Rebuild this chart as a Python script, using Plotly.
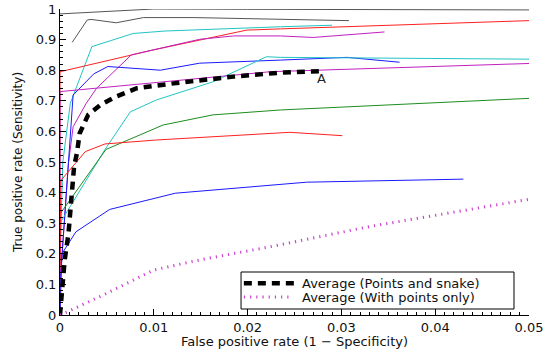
import plotly.graph_objects as go

# ---- data ----
gray1_x = [0, 0.01, 0.02, 0.05]
gray1_y = [0.984, 1.0, 0.999, 0.997]

gray2_x = [0.0013, 0.0029, 0.0033, 0.006, 0.0089, 0.0142, 0.0308]
gray2_y = [0.891, 0.964, 0.966, 0.955, 0.972, 0.972, 0.962]

cyan1_x = [0, 0.0003, 0.0011, 0.0034, 0.0078, 0.0112, 0.0235, 0.029]
cyan1_y = [0.15, 0.50, 0.692, 0.877, 0.92, 0.928, 0.942, 0.947]

red1_x = [0, 0, 0.0099, 0.0199, 0.0235, 0.05]
red1_y = [0.0, 0.795, 0.866, 0.931, 0.935, 0.962]

mag1_x = [0, 0.0009, 0.0014, 0.0028, 0.0039, 0.0076, 0.0149, 0.0185, 0.0235, 0.027, 0.0346]
mag1_y = [0.10, 0.496, 0.615, 0.692, 0.741, 0.85, 0.901, 0.912, 0.912, 0.907, 0.925]

blue1_x = [0, 0.0014, 0.0036, 0.0051, 0.0107, 0.0149, 0.0235, 0.0306, 0.0362]
blue1_y = [0.10, 0.719, 0.788, 0.812, 0.80, 0.823, 0.833, 0.842, 0.826]

cyan2_x = [0, 0.0048, 0.0075, 0.0103, 0.0163, 0.022, 0.0235, 0.05]
cyan2_y = [0.30, 0.541, 0.664, 0.703, 0.762, 0.844, 0.842, 0.836]

mag2_x = [0, 0, 0.0224, 0.05]
mag2_y = [0.0, 0.73, 0.795, 0.822]

green_x = [0, 0.0049, 0.011, 0.0163, 0.0235, 0.05]
green_y = [0.33, 0.541, 0.621, 0.654, 0.670, 0.708]

red2_x = [0, 0.0001, 0.0027, 0.0048, 0.0103, 0.0235, 0.0245, 0.0301]
red2_y = [0.15, 0.44, 0.534, 0.559, 0.572, 0.597, 0.597, 0.586]

blue2_x = [0, 0.0002, 0.0017, 0.0053, 0.0123, 0.0235, 0.0263, 0.043]
blue2_y = [0.0, 0.20, 0.272, 0.345, 0.398, 0.425, 0.434, 0.444]

avg_snake_x = [0, 0.0002, 0.0005, 0.0009, 0.0011, 0.0013, 0.0015, 0.0018, 0.0021,
               0.0030, 0.0043, 0.0059, 0.0082, 0.0121, 0.0185, 0.0235, 0.0277]
avg_snake_y = [0, 0.093, 0.18, 0.265, 0.349, 0.398, 0.485, 0.528, 0.594,
               0.654, 0.686, 0.713, 0.741, 0.757, 0.779, 0.792, 0.797]

avg_points_x = [0, 0.0004, 0.005, 0.0100, 0.0149, 0.0224, 0.033, 0.05]
avg_points_y = [0, 0.005, 0.071, 0.147, 0.18, 0.223, 0.289, 0.378]

legend_names = ["Average (Points and snake)", "Average (With points only)"]
annotation_label = "A"
annotation_x = 0.0279
annotation_y = 0.773

x_title = "False positive rate (1 \u2212 Specificity)"
y_title = "True positive rate (Sensitivity)"

FONT = "DejaVu Sans"
SNAKE_STYLE = dict(color="black", width=4.5, dash="8px,6px")
POINTS_STYLE = dict(color="#d040d0", width=3, dash="1.2px,5px")

fig = go.Figure()

thin = [
    (gray1_x, gray1_y, "#555555"),
    (gray2_x, gray2_y, "#555555"),
    (cyan1_x, cyan1_y, "#22c4c4"),
    (red1_x, red1_y, "#ff2020"),
    (mag1_x, mag1_y, "#c020c0"),
    (blue1_x, blue1_y, "#1a1aff"),
    (cyan2_x, cyan2_y, "#22c4c4"),
    (mag2_x, mag2_y, "#c020c0"),
    (green_x, green_y, "#1e8c1e"),
    (red2_x, red2_y, "#ff2020"),
    (blue2_x, blue2_y, "#1a1aff"),
]
for xs, ys, c in thin:
    fig.add_trace(go.Scatter(x=xs, y=ys, mode="lines", line=dict(color=c, width=1),
                             showlegend=False, hoverinfo="skip"))

fig.add_trace(go.Scatter(x=avg_snake_x, y=avg_snake_y, mode="lines", name=legend_names[0],
                         line=SNAKE_STYLE, showlegend=False))
fig.add_trace(go.Scatter(x=avg_points_x, y=avg_points_y, mode="lines", name=legend_names[1],
                         line=POINTS_STYLE, showlegend=False))

fig.add_annotation(x=annotation_x, y=annotation_y, text=annotation_label, showarrow=False,
                   font=dict(family=FONT, size=13, color="#222"))

# ---- compact legend box (layout decoration, in paper coordinates) ----
fig.add_shape(type="rect", xref="paper", yref="paper", x0=0.386, x1=0.968, y0=0.0196, y1=0.1405,
              line=dict(color="black", width=1), fillcolor="white", layer="above")
legend_rows = [(0.1036, 0.505, SNAKE_STYLE), (0.0588, 0.495, POINTS_STYLE)]
for (ly, lx1, st), name in zip(legend_rows, legend_names):
    fig.add_shape(type="line", xref="paper", yref="paper", x0=0.392, x1=lx1, y0=ly, y1=ly,
                  line=st, layer="above")
    fig.add_annotation(xref="paper", yref="paper", x=0.5117, y=ly, text=name, showarrow=False,
                       xanchor="left", yanchor="middle",
                       font=dict(family=FONT, size=13, color="#111"))

axis_common = dict(showline=True, linecolor="black", linewidth=1, mirror=False,
                   ticks="inside", ticklen=6, tickcolor="black", showgrid=False, zeroline=False,
                   automargin=False,
                   tickfont=dict(family=FONT, size=13, color="#111"))

fig.update_xaxes(range=[0, 0.05], dtick=0.01, tick0=0,
                 minor=dict(ticks="inside", ticklen=3, dtick=0.001, tickcolor="black", showgrid=False),
                 title=dict(text=x_title, font=dict(family=FONT, size=13, color="#111"), standoff=0),
                 **axis_common)
fig.update_yaxes(range=[0, 1], dtick=0.1, tick0=0,
                 minor=dict(ticks="inside", ticklen=3, dtick=0.02, tickcolor="black", showgrid=False),
                 title=dict(text=y_title, font=dict(family=FONT, size=12, color="#111"), standoff=10),
                 **axis_common)

fig.update_layout(
    width=545, height=349,
    margin=dict(l=60, r=16, t=9, b=34),
    paper_bgcolor="white", plot_bgcolor="white",
    showlegend=False,
)

fig.write_html("out.html", config={"displayModeBar": False},
               post_script="document.body.style.margin='0';")
